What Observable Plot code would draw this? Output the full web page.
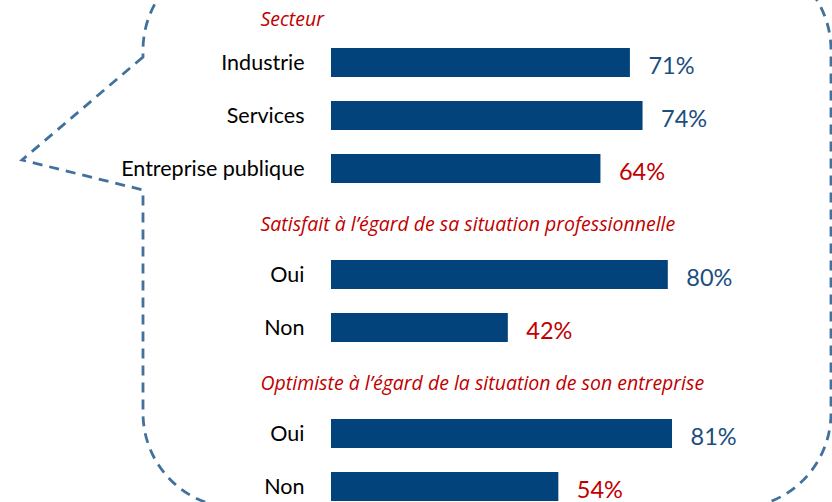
<!DOCTYPE html>
<html>
<head>
<meta charset="utf-8">
<script src="https://cdn.jsdelivr.net/npm/d3@7"></script>
<script src="https://cdn.jsdelivr.net/npm/@observablehq/plot@0.6"></script>
<style>
  html, body { margin: 0; padding: 0; background: #fff; }
  #chart svg { display: block; }
</style>
</head>
<body>
<div id="chart"></div>
<script>
// ---- data ----
const groups = [
  "Secteur",
  "Satisfait à l’égard de sa situation professionnelle",
  "Optimiste à l’égard de la situation de son entreprise"
];
const groupOf    = [0, 0, 0, 1, 1, 2, 2];
const categories = ["Industrie", "Services", "Entreprise publique", "Oui", "Non", "Oui", "Non"];
const values     = [71, 74, 64, 80, 42, 81, 54];
const tone       = ["haut", "haut", "bas", "haut", "bas", "haut", "bas"]; // colour of the value label

// ---- build rows (header row + item rows) ----
const rows = [];
groups.forEach((g, gi) => {
  rows.push({key: "h" + gi, kind: "header", label: g, first: gi === 0});
  categories.forEach((c, i) => {
    if (groupOf[i] === gi) rows.push({key: "r" + i, kind: "item", label: c, value: values[i], tone: tone[i]});
  });
});
const items = rows.filter(d => d.kind === "item");
const headers = rows.filter(d => d.kind === "header");

const BAR = "#02437B";
const BLUE = "#1B4E7E";
const RED = "#C00000";

// decorative speech bubble drawn in pixel space
function bubble() {
  const L = 143, R = 831, T = -45, B = 508, r = 95;
  const p = d3.path();
  p.moveTo(L, 57);
  p.lineTo(22, 160);
  p.lineTo(L, 190);
  p.lineTo(L, B - r);
  p.arcTo(L, B, L + r, B, r);
  p.lineTo(R - r, B);
  p.arcTo(R, B, R, B - r, r);
  p.lineTo(R, T + r);
  p.arcTo(R, T, R - r, T, r);
  p.lineTo(L + r, T);
  p.arcTo(L, T, L, T + r, r);
  p.closePath();
  return d3.create("svg:path")
    .attr("d", p.toString())
    .attr("fill", "none")
    .attr("stroke", "#41719C")
    .attr("stroke-width", 2.8)
    .attr("stroke-dasharray", "10,7")
    .node();
}

const chart = Plot.plot({
  width: 832,
  height: 502,
  marginLeft: 331,
  marginRight: 80,
  marginTop: -19,
  marginBottom: -12,
  style: {fontFamily: "Lato, 'Open Sans', sans-serif", background: "#fff"},
  x: {domain: [0, 100], axis: null},
  y: {domain: rows.map(d => d.key), padding: 0, axis: null},
  marks: [
    bubble,
    Plot.barX(items, {x: "value", y: "key", fill: BAR, insetTop: 12, insetBottom: 12}),
    Plot.text(items, {x: 0, y: "key", text: "label", textAnchor: "end", dx: -27, fontSize: 21.5, fill: "#000",
      fontFamily: "Lato", letterSpacing: "0.3px"}),
    Plot.text(items, {x: "value", y: "key", text: d => d.value + "%", textAnchor: "start", dx: 18, dy: 3, fontSize: 23.5,
      fontFamily: "Lato", fill: d => d.tone === "haut" ? BLUE : RED}),
    Plot.text(headers.filter(d => d.first), {x: 0, y: "key", text: "label", textAnchor: "start", dx: -71, dy: 10,
      fontSize: 19.5, fontFamily: "Open Sans", fontStyle: "italic", fill: RED}),
    Plot.text(headers.filter(d => !d.first), {x: 0, y: "key", text: "label", textAnchor: "start", dx: -71, dy: 3,
      fontSize: 19.5, fontFamily: "Open Sans", fontStyle: "italic", fill: RED, letterSpacing: "0.2px"})
  ]
});
document.getElementById("chart").appendChild(chart);
</script>
</body>
</html>
